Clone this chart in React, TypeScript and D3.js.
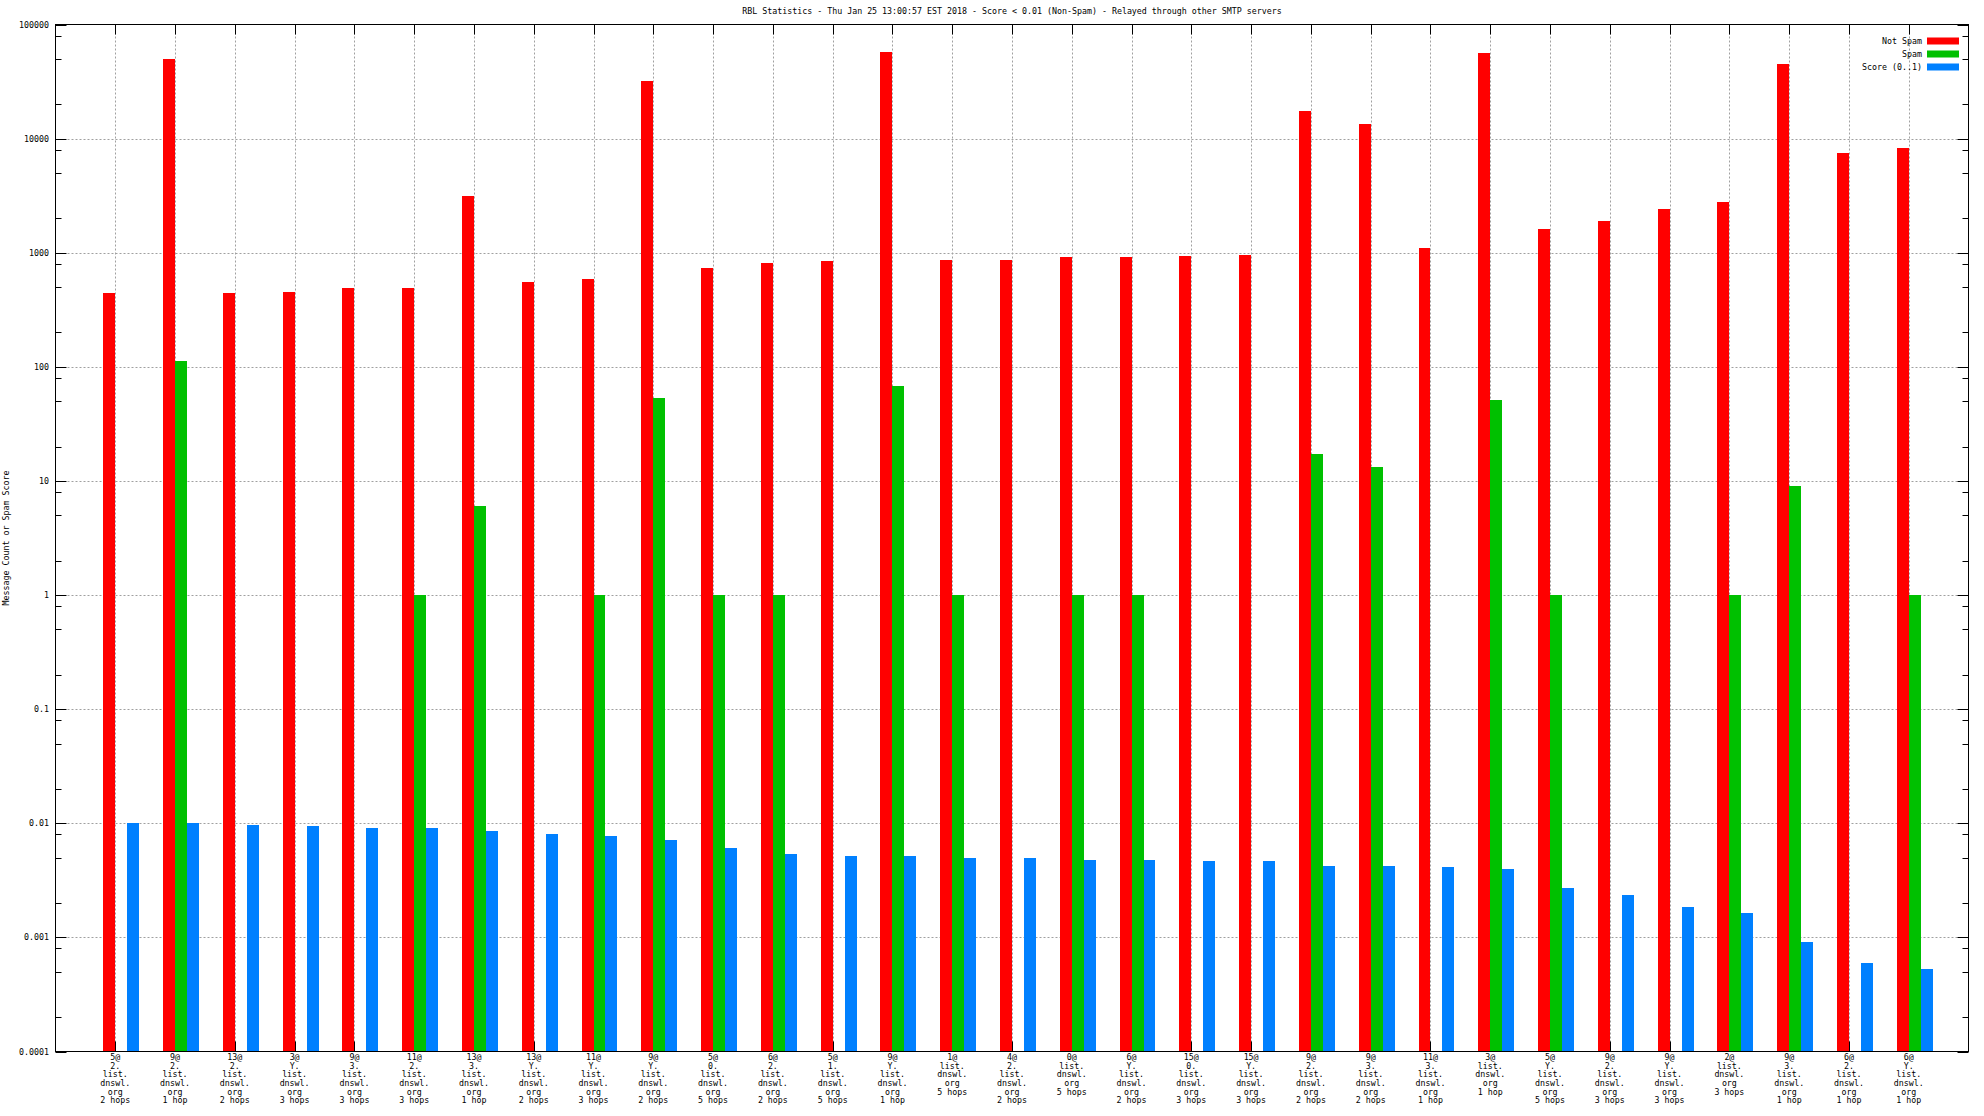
import React from "react";
import * as d3 from "d3";

const categories: string[][] = [
  ["5@", "2.", "list.", "dnswl.", "org", "2 hops"],
  ["9@", "2.", "list.", "dnswl.", "org", "1 hop"],
  ["13@", "2.", "list.", "dnswl.", "org", "2 hops"],
  ["3@", "Y.", "list.", "dnswl.", "org", "3 hops"],
  ["9@", "3.", "list.", "dnswl.", "org", "3 hops"],
  ["11@", "2.", "list.", "dnswl.", "org", "3 hops"],
  ["13@", "3.", "list.", "dnswl.", "org", "1 hop"],
  ["13@", "Y.", "list.", "dnswl.", "org", "2 hops"],
  ["11@", "Y.", "list.", "dnswl.", "org", "3 hops"],
  ["9@", "Y.", "list.", "dnswl.", "org", "2 hops"],
  ["5@", "0.", "list.", "dnswl.", "org", "5 hops"],
  ["6@", "2.", "list.", "dnswl.", "org", "2 hops"],
  ["5@", "1.", "list.", "dnswl.", "org", "5 hops"],
  ["9@", "Y.", "list.", "dnswl.", "org", "1 hop"],
  ["1@", "list.", "dnswl.", "org", "5 hops"],
  ["4@", "2.", "list.", "dnswl.", "org", "2 hops"],
  ["0@", "list.", "dnswl.", "org", "5 hops"],
  ["6@", "Y.", "list.", "dnswl.", "org", "2 hops"],
  ["15@", "0.", "list.", "dnswl.", "org", "3 hops"],
  ["15@", "Y.", "list.", "dnswl.", "org", "3 hops"],
  ["9@", "2.", "list.", "dnswl.", "org", "2 hops"],
  ["9@", "3.", "list.", "dnswl.", "org", "2 hops"],
  ["11@", "3.", "list.", "dnswl.", "org", "1 hop"],
  ["3@", "list.", "dnswl.", "org", "1 hop"],
  ["5@", "Y.", "list.", "dnswl.", "org", "5 hops"],
  ["9@", "2.", "list.", "dnswl.", "org", "3 hops"],
  ["9@", "Y.", "list.", "dnswl.", "org", "3 hops"],
  ["2@", "list.", "dnswl.", "org", "3 hops"],
  ["9@", "3.", "list.", "dnswl.", "org", "1 hop"],
  ["6@", "2.", "list.", "dnswl.", "org", "1 hop"],
  ["6@", "Y.", "list.", "dnswl.", "org", "1 hop"],
];

const notSpam: number[] = [
  440, 49500, 445, 450, 495, 490, 3140, 553, 583, 32000,
  733, 811, 853, 57700, 870, 870, 922, 920, 940, 960,
  17400, 13500, 1100, 56300, 1618, 1884, 2432, 2762, 44700, 7480, 8290,
];

const spam: (number | null)[] = [
  null, 113, null, null, null, 1, 6.0, null, 1, 53,
  1, 1, null, 68, 1, null, 1, 1, null, null,
  17.2, 13.3, null, 51.4, 1, null, null, 1, 9.06, null, 1,
];

const score: number[] = [
  0.0100, 0.0100, 0.0097, 0.0095, 0.0090, 0.0090, 0.0085, 0.0081, 0.0077, 0.0071,
  0.0061, 0.0054, 0.0052, 0.0052, 0.0050, 0.0050, 0.0048, 0.0048, 0.0047, 0.0047,
  0.0042, 0.0042, 0.0041, 0.0040, 0.0027, 0.00237, 0.00184, 0.00162, 0.00092, 0.0006, 0.00053,
];

const yTickValues: number[] = [0.0001, 0.001, 0.01, 0.1, 1, 10, 100, 1000, 10000, 100000];
const yTickLabels: string[] = ["0.0001", "0.001", "0.01", "0.1", "1", "10", "100", "1000", "10000", "100000"];
const minorMultipliers: number[] = [2, 5, 8];

const seriesNames: string[] = ["Not Spam", "Spam", "Score (0..1)"];
const seriesColors: string[] = ["#ff0000", "#00c000", "#0080ff"];

const titleText =
  "RBL Statistics - Thu Jan 25 13:00:57 EST 2018 - Score < 0.01 (Non-Spam) - Relayed through other SMTP servers";
const yTitle = "Message Count or Spam Score";

const W = 1984;
const H = 1116;
const L = 55.5;
const R = 1968.5;
const T = 24.5;
const B = 1051.5;
const FONT = "'DejaVu Sans Mono', 'Liberation Mono', monospace";
const FS = 8.3;

export default function App() {
  const x = d3.scaleLinear().domain([-1, categories.length]).range([L, R]);
  const y = d3.scaleLog().domain([1e-4, 1e5]).range([B, T]);
  const bw = x(0.2) - x(0);

  const minors: number[] = [];
  for (let i = 0; i < yTickValues.length - 1; i++) {
    for (const m of minorMultipliers) minors.push(yTickValues[i] * m);
  }

  const series: (number | null)[][] = [notSpam, spam, score];
  const offsets = [-0.2, 0, 0.2];

  return (
    <svg
      width={W}
      height={H}
      style={{ position: "absolute", left: 0, top: 0, background: "#fff" }}
      fontFamily={FONT}
      fontSize={FS}
    >
      <rect x={0} y={0} width={W} height={H} fill="#fff" />
      {/* grid */}
      {yTickValues.slice(1, -1).map((v, i) => (
        <line
          key={"hg" + i}
          x1={L}
          x2={R}
          y1={Math.round(y(v)) + 0.5}
          y2={Math.round(y(v)) + 0.5}
          stroke="#a0a0a0"
          strokeDasharray="2,2"
        />
      ))}
      {categories.map((_, i) => (
        <line
          key={"vg" + i}
          x1={Math.round(x(i)) + 0.5}
          x2={Math.round(x(i)) + 0.5}
          y1={T}
          y2={B}
          stroke="#a0a0a0"
          strokeDasharray="2,2"
        />
      ))}
      {/* ticks */}
      {yTickValues.map((v, i) => {
        const yy = Math.round(y(v)) + 0.5;
        return (
          <g key={"yt" + i}>
            <line x1={L} x2={L + 11} y1={yy} y2={yy} stroke="#000" />
            <line x1={R} x2={R - 11} y1={yy} y2={yy} stroke="#000" />
            <text x={49} y={yy} dy="0.35em" textAnchor="end" fill="#000">
              {yTickLabels[i]}
            </text>
          </g>
        );
      })}
      {minors.map((v, i) => {
        const yy = Math.round(y(v)) + 0.5;
        return (
          <g key={"ym" + i}>
            <line x1={L} x2={L + 6} y1={yy} y2={yy} stroke="#000" />
            <line x1={R} x2={R - 6} y1={yy} y2={yy} stroke="#000" />
          </g>
        );
      })}
      {categories.map((_, i) => {
        const xx = Math.round(x(i)) + 0.5;
        return (
          <g key={"xt" + i}>
            <line x1={xx} x2={xx} y1={T} y2={T + 10} stroke="#000" />
            <line x1={xx} x2={xx} y1={B} y2={B - 10} stroke="#000" />
          </g>
        );
      })}
      {/* bars */}
      {series.map((s, si) =>
        s.map((v, i) =>
          v == null ? null : (
            <rect
              key={"b" + si + "-" + i}
              x={x(i + offsets[si])}
              width={bw}
              y={y(v)}
              height={B - y(v)}
              fill={seriesColors[si]}
              shapeRendering="crispEdges"
            />
          )
        )
      )}
      {/* border */}
      <rect x={L} y={T} width={R - L} height={B - T} fill="none" stroke="#000" />
      {/* x labels */}
      {categories.map((lines, i) => (
        <text key={"xl" + i} x={x(i)} y={1057} textAnchor="middle" fill="#000">
          {lines.map((ln, j) => (
            <tspan key={j} x={x(i)} y={1057 + j * 8.7} dy="0.35em">
              {ln}
            </tspan>
          ))}
        </text>
      ))}
      {/* title */}
      <text x={(L + R) / 2} y={11.5} dy="0.35em" textAnchor="middle" fill="#000">
        {titleText}
      </text>
      {/* y title */}
      <text
        transform={`translate(6.5, ${(T + B) / 2}) rotate(-90)`}
        dy="0.35em"
        textAnchor="middle"
        fill="#000"
      >
        {yTitle}
      </text>
      {/* legend */}
      {seriesNames.map((n, i) => {
        const cy = 41 + i * 13;
        return (
          <g key={"lg" + i}>
            <text x={1922} y={cy} dy="0.35em" textAnchor="end" fill="#000">
              {n}
            </text>
            <rect x={1927} y={cy - 3.5} width={32} height={7} fill={seriesColors[i]} />
          </g>
        );
      })}
    </svg>
  );
}
